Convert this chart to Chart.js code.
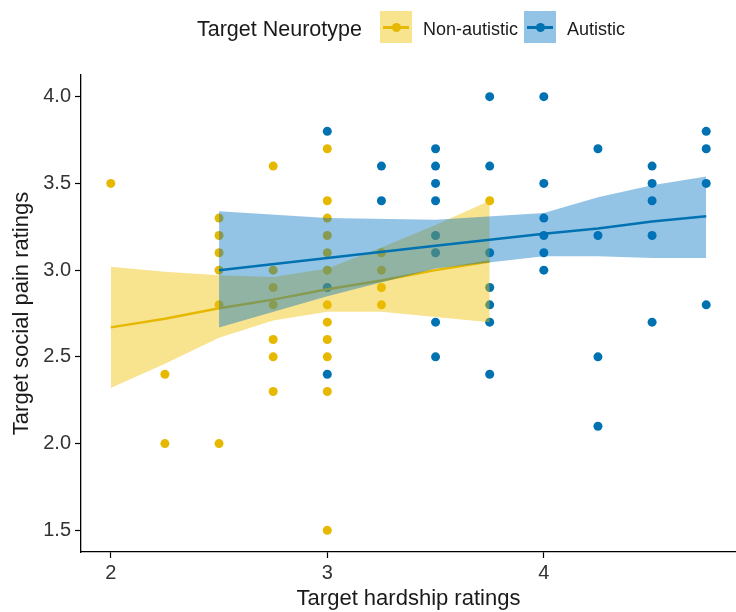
<!DOCTYPE html>
<html>
<head>
<meta charset="utf-8">
<script src="https://cdn.jsdelivr.net/npm/chart.js@4"></script>
<style>
  body { margin: 0; background: #fff; overflow: hidden; }
  #wrap { position: relative; width: 736px; height: 612px; }
  #scatterChart { display: block; }
  #legend { position: absolute; left: 0; top: 0; width: 736px; height: 60px; font-family: "Liberation Sans", Arial, sans-serif; color: #1a1a1a; }
  .ltitle { position: absolute; left: 197px; top: 17px; font-size: 21.5px; }
  .lkey { position: absolute; top: 11px; width: 32px; height: 32px; }
  .lkey .ln { position: absolute; left: 3px; right: 3px; top: 15px; height: 2.5px; }
  .lkey .dot { position: absolute; left: 11.5px; top: 11.5px; width: 9px; height: 9px; border-radius: 50%; }
  .llabel { position: absolute; top: 19px; font-size: 18px; }
</style>
</head>
<body>
<div id="wrap">
  <canvas id="scatterChart" width="736" height="612"></canvas>
  <div id="legend"></div>
</div>
<script>
// hardship (x) and social pain (y) ratings per target neurotype
const nonAutX = [2, 2.25, 2.25, 2.5, 2.5, 2.5, 2.5, 2.5, 2.5,
  2.75, 2.75, 2.75, 2.75, 2.75, 2.75, 2.75,
  3, 3, 3, 3, 3, 3, 3, 3, 3, 3, 3, 3,
  3.25, 3.25, 3.25, 3.25, 3.75];
const nonAutY = [3.5, 2.4, 2.0, 3.3, 3.2, 3.1, 3.0, 2.8, 2.0,
  3.6, 3.0, 2.9, 2.8, 2.6, 2.5, 2.3,
  3.7, 3.4, 3.3, 3.2, 3.1, 3.0, 2.8, 2.7, 2.6, 2.5, 2.3, 1.5,
  3.1, 3.0, 2.9, 2.8, 3.4];

const autX = [3, 3, 3, 3.25, 3.25,
  3.5, 3.5, 3.5, 3.5, 3.5, 3.5, 3.5, 3.5,
  3.75, 3.75, 3.75, 3.75, 3.75, 3.75, 3.75,
  4, 4, 4, 4, 4, 4,
  4.25, 4.25, 4.25, 4.25,
  4.5, 4.5, 4.5, 4.5, 4.5,
  4.75, 4.75, 4.75, 4.75];
const autY = [3.8, 2.9, 2.4, 3.6, 3.4,
  3.7, 3.6, 3.5, 3.4, 3.2, 3.1, 2.7, 2.5,
  4.0, 3.6, 3.1, 2.9, 2.8, 2.7, 2.4,
  4.0, 3.5, 3.3, 3.2, 3.1, 3.0,
  3.7, 3.2, 2.5, 2.1,
  3.6, 3.5, 3.4, 3.2, 2.7,
  3.8, 3.7, 3.5, 2.8];

// linear fits with 95% confidence bands
const fitNonX = [2, 2.25, 2.5, 2.75, 3, 3.25, 3.5, 3.75];
const fitNonY = [2.67, 2.72, 2.78, 2.83, 2.89, 2.94, 3.00, 3.05];
const lowNonY = [2.32, 2.46, 2.61, 2.71, 2.76, 2.76, 2.73, 2.70];
const highNonY = [3.02, 2.99, 2.97, 2.96, 3.01, 3.13, 3.26, 3.40];

const fitAutX = [2.5, 3, 3.5, 4, 4.25, 4.5, 4.75];
const fitAutY = [3.00, 3.07, 3.14, 3.21, 3.24, 3.28, 3.31];
const lowAutY = [2.67, 2.85, 3.01, 3.08, 3.08, 3.07, 3.07];
const highAutY = [3.34, 3.30, 3.29, 3.33, 3.42, 3.49, 3.54];

const xTicks = [2, 3, 4];
const yTicks = [1.5, 2.0, 2.5, 3.0, 3.5, 4.0];
const groups = ["Non-autistic", "Autistic"];

const YELLOW = "#E7B800";
const BLUE = "#0072B2";
const YELLOW_FILL = "rgba(239, 192, 0, 0.44)";
const BLUE_FILL = "rgba(0, 115, 194, 0.42)";
const FONT = "'Liberation Sans', Arial, sans-serif";

const pts = (xs, ys) => xs.map((x, i) => ({ x: x, y: ys[i] }));

function pointSet(label, xs, ys, color, order) {
  return {
    label: label, data: pts(xs, ys), order: order,
    backgroundColor: color, borderWidth: 0, pointRadius: 4.5, showLine: false
  };
}

function bandEdge(xs, ys, fill, color, order) {
  return {
    data: pts(xs, ys), order: order, showLine: true, pointRadius: 0,
    borderWidth: 0, borderColor: "rgba(0,0,0,0)", backgroundColor: color, fill: fill, tension: 0
  };
}

function fitLine(xs, ys, color, order) {
  return {
    data: pts(xs, ys), order: order, showLine: true, pointRadius: 0,
    borderColor: color, borderWidth: 2.5, fill: false, tension: 0
  };
}

// higher order is drawn first: points, then yellow band/line, then blue band/line
const datasets = [
  pointSet(groups[1], autX, autY, BLUE, 8),
  pointSet(groups[0], nonAutX, nonAutY, YELLOW, 7),
  bandEdge(fitNonX, highNonY, false, YELLOW_FILL, 6),
  bandEdge(fitNonX, lowNonY, "-1", YELLOW_FILL, 5),
  fitLine(fitNonX, fitNonY, YELLOW, 4),
  bandEdge(fitAutX, highAutY, false, BLUE_FILL, 3),
  bandEdge(fitAutX, lowAutY, "-1", BLUE_FILL, 2),
  fitLine(fitAutX, fitAutY, BLUE, 1)
];

const ctx = document.getElementById("scatterChart").getContext("2d");
new Chart(ctx, {
  type: "scatter",
  data: { datasets: datasets },
  options: {
    responsive: false,
    animation: false,
    layout: { autoPadding: false, padding: { top: 75, right: 0, left: 0, bottom: 0 } },
    plugins: { legend: { display: false }, tooltip: { enabled: false } },
    scales: {
      x: {
        type: "linear", min: 1.8625, max: 4.8875,
        afterBuildTicks: s => { s.ticks = xTicks.map(v => ({ value: v })); },
        afterFit: s => { s.height = 60; },
        grid: { drawOnChartArea: false, tickLength: 6, color: "#000", tickWidth: 1.2 },
        border: { color: "#000", width: 1.3 },
        ticks: { color: "#333", padding: 3, font: { family: FONT, size: 20 }, callback: v => String(v) },
        title: { display: true, text: "Target hardship ratings", color: "#1a1a1a", padding: { top: 0, bottom: 0 }, font: { family: FONT, size: 22 } }
      },
      y: {
        type: "linear", min: 1.375, max: 4.125,
        afterBuildTicks: s => { s.ticks = yTicks.map(v => ({ value: v })); },
        afterFit: s => { s.width = 81; },
        grid: { drawOnChartArea: false, tickLength: 6, color: "#000", tickWidth: 1.2 },
        border: { color: "#000", width: 1.3 },
        ticks: { color: "#333", padding: 4, font: { family: FONT, size: 20 }, callback: v => Number(v).toFixed(1) },
        title: { display: true, text: "Target social pain ratings", color: "#1a1a1a", padding: { top: 9, bottom: 0 }, font: { family: FONT, size: 22 } }
      }
    }
  }
});

// legend row above the panel
const legend = document.getElementById("legend");
legend.innerHTML = `
  <div class="ltitle">Target Neurotype</div>
  <div class="lkey" style="left:380px;background:${YELLOW_FILL}">
    <div class="ln" style="background:${YELLOW}"></div><div class="dot" style="background:${YELLOW}"></div></div>
  <div class="llabel" style="left:423px">${groups[0]}</div>
  <div class="lkey" style="left:524px;background:${BLUE_FILL}">
    <div class="ln" style="background:${BLUE}"></div><div class="dot" style="background:${BLUE}"></div></div>
  <div class="llabel" style="left:567px">${groups[1]}</div>`;
</script>
</body>
</html>
